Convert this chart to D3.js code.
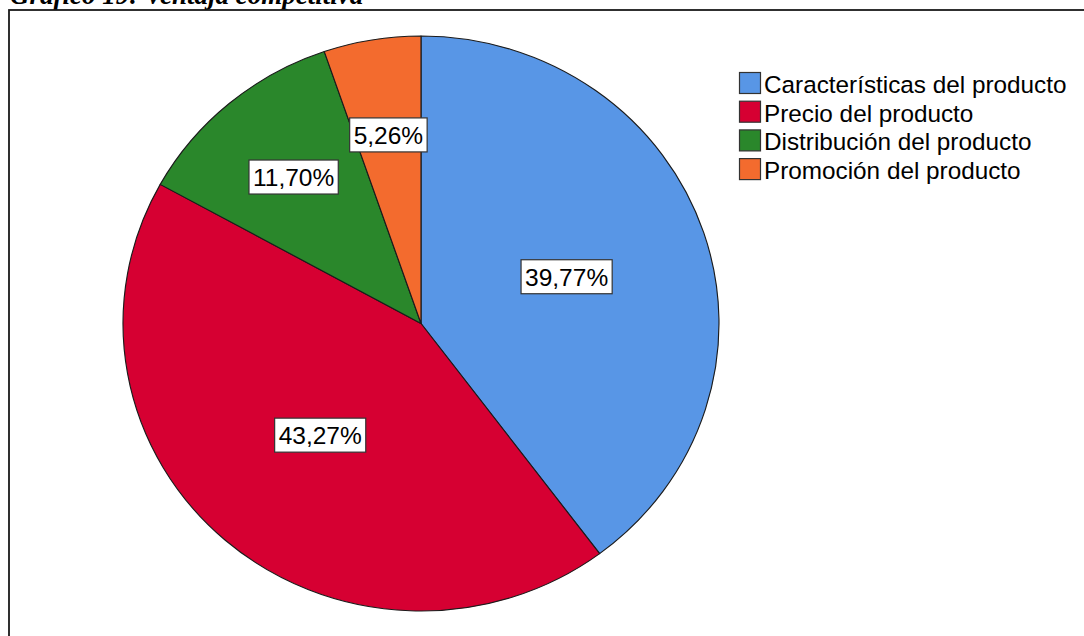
<!DOCTYPE html>
<html>
<head>
<meta charset="utf-8">
<script src="https://cdn.jsdelivr.net/npm/d3@7"></script>
<style>
  html, body { margin: 0; padding: 0; background: #fff; overflow: hidden; }
  svg { display: block; }
</style>
</head>
<body>
<svg id="chart" width="1084" height="636"></svg>
<script>
// Ventaja competitiva: share of respondents by factor (%)
const categories = [
  "Características del producto",
  "Precio del producto",
  "Distribución del producto",
  "Promoción del producto"
];
const values = [39.77, 43.27, 11.70, 5.26];
const colors = ["#5896e6", "#d60032", "#2a872b", "#f36b2e"];
const titleText = "Gráfico 19: Ventaja competitiva";

const svg = d3.select("#chart");
const fmt = v => d3.format(".2f")(v).replace(".", ",") + "%";

// Title (sits mostly above the visible area)
svg.append("text")
  .attr("x", 10).attr("y", 4)
  .attr("font-family", "'Liberation Serif', 'Times New Roman', serif")
  .attr("font-style", "italic").attr("font-weight", "bold")
  .attr("font-size", 27)
  .attr("fill", "#000")
  .text(titleText);

// Chart frame
svg.append("rect")
  .attr("x", 9).attr("y", 10)
  .attr("width", 1200).attr("height", 800)
  .attr("fill", "none")
  .attr("stroke", "#1a1a1a").attr("stroke-width", 1.8);

// Pie geometry
const cx = 421, cy = 323.5, radius = 287.5, sx = 298 / 287.5;

const pie = d3.pie().sort(null).value(d => d)
  .startAngle(0).endAngle(2 * Math.PI);
const arcs = pie(values);
const arc = d3.arc().innerRadius(0).outerRadius(radius);

const pieG = svg.append("g")
  .attr("transform", `translate(${cx},${cy}) scale(${sx},1)`);

pieG.selectAll("path.slice")
  .data(arcs)
  .join("path")
  .attr("class", "slice")
  .attr("d", arc)
  .attr("fill", (d, i) => colors[i])
  .attr("stroke", "#1b1b1b")
  .attr("stroke-width", 1.1)
  .attr("stroke-linejoin", "round");

// Value labels: large slices labelled nearer the middle, small ones further out
const labelG = svg.append("g").attr("transform", `translate(${cx},${cy})`);
const fontSize = 24.5;
arcs.forEach((d, i) => {
  const frac = d.value / 100 > 0.2 ? 0.515 : 0.665;
  const la = d3.arc().innerRadius(radius * frac).outerRadius(radius * frac);
  const [px, py] = la.centroid(d);
  const x = px * sx, y = py;
  const g = labelG.append("g").attr("transform", `translate(${x},${y})`);
  const t = g.append("text")
    .attr("x", 0).attr("y", 9)
    .attr("text-anchor", "middle")
    .attr("font-family", "'Liberation Sans', Arial, sans-serif")
    .attr("font-size", fontSize)
    .attr("fill", "#000")
    .text(fmt(values[i]));
  const w = t.node().getComputedTextLength() + 8;
  g.insert("rect", "text")
    .attr("x", -w / 2).attr("y", -17)
    .attr("width", w).attr("height", 34)
    .attr("fill", "#fff")
    .attr("stroke", "#333").attr("stroke-width", 1.2);
});

// Legend
const legend = svg.append("g").attr("transform", "translate(739,72)");
const rowH = 28.7;
categories.forEach((c, i) => {
  const row = legend.append("g").attr("transform", `translate(0,${i * rowH})`);
  row.append("rect")
    .attr("x", 0.5).attr("y", 0.5)
    .attr("width", 21).attr("height", 21)
    .attr("fill", colors[i])
    .attr("stroke", "#333").attr("stroke-width", 1.2);
  row.append("text")
    .attr("x", 25).attr("y", 21)
    .attr("font-family", "'Liberation Sans', Arial, sans-serif")
    .attr("font-size", 24.3)
    .attr("fill", "#000")
    .text(c);
});
</script>
</body>
</html>
